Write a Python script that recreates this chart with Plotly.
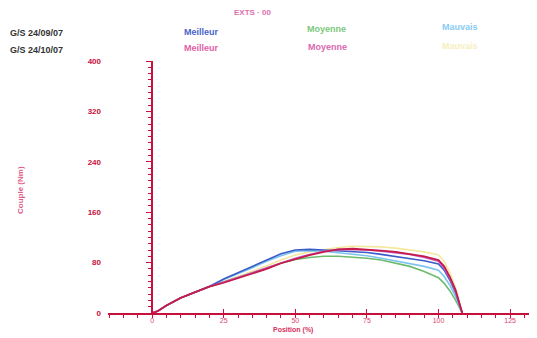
import plotly.graph_objects as go

# ---- data ----
position = [0, 2, 5, 10, 15, 20, 25, 30, 35, 40, 45, 50, 55, 60, 65, 70, 75, 80, 85, 90, 95, 100, 102, 104, 106, 108.3]
s1_meilleur = [0, 3, 12, 24, 33, 42, 54, 64, 74, 84, 94, 100, 101, 100, 99, 98, 96, 93, 90, 87, 83, 78, 68, 52, 32, 0]
s1_moyenne  = [0, 3, 12, 24, 33, 42, 49, 56, 63, 71, 79, 85, 88, 90, 90, 89, 87, 84, 79, 74, 66, 56, 47, 35, 20, 0]
s1_mauvais  = [0, 3, 12, 24, 33, 42, 53, 62, 72, 82, 91, 98, 99, 98, 96, 94, 91, 87, 83, 79, 74, 68, 58, 44, 26, 0]
s2_meilleur = [0, 3, 12, 24, 33, 42, 48, 55, 62, 70, 79, 86, 92, 97, 101, 102, 101, 99, 97, 94, 90, 84, 74, 57, 36, 0]
s2_moyenne  = [0, 3, 12, 24, 33, 42, 49, 56, 64, 72, 80, 87, 93, 98, 101, 101, 100, 98, 96, 93, 88, 82, 71, 55, 34, 0]
s2_mauvais  = [0, 3, 12, 24, 33, 42, 50, 58, 66, 75, 84, 92, 97, 101, 104, 106, 106, 105, 103, 100, 97, 92, 82, 64, 40, 0]

y_ticks = [0, 80, 160, 240, 320, 400]
x_ticks = [0, 25, 50, 75, 100, 125]

title_text = "EXTS · 00"
row_labels = ["G/S 24/09/07", "G/S 24/10/07"]
col_labels = ["Meilleur", "Moyenne", "Mauvais"]

# ---- styles ----
OFF = 8                      # page body margin
W, H = 537 - OFF, 338 - OFF
ML, MR, MT, MB = 108 - OFF, 0, 61 - OFF, 25
XR = [-15.4, 134.4]
YR = [0, 400]
AX = "#c8103c"
FONT = "Liberation Sans, Arial, sans-serif"

series = [
    (s2_mauvais, "#f4e8a0", "G/S 24/10/07 Mauvais", 1.6),
    (s1_moyenne, "#6cbc6c", "G/S 24/09/07 Moyenne", 1.6),
    (s1_mauvais, "#7cc4ee", "G/S 24/09/07 Mauvais", 1.6),
    (s1_meilleur, "#3a5cc8", "G/S 24/09/07 Meilleur", 1.6),
    (s2_moyenne, "#c860c0", "G/S 24/10/07 Moyenne", 1.6),
    (s2_meilleur, "#c41a4c", "G/S 24/10/07 Meilleur", 1.8),
]

fig = go.Figure()
for vals, col, name, lw in series:
    fig.add_trace(go.Scatter(x=position, y=vals, mode="lines", name=name,
                             line=dict(color=col, width=lw), showlegend=False))

fig.add_trace(go.Scatter(x=[0], y=[0], yaxis="y2", mode="markers",
                         marker=dict(opacity=0), showlegend=False, hoverinfo="skip"))

pw = W - ML - MR
ph = H - MT - MB

def px(xp):
    return (xp - OFF - ML) / pw

def py(yp):
    return (H - MB - (yp - OFF)) / ph

ann = []
def txt(t, x, y, color, size=9, bold=True, xanchor="left"):
    ann.append(dict(text=("<b>%s</b>" % t) if bold else t, x=px(x), y=py(y),
                    xref="paper", yref="paper", showarrow=False,
                    xanchor=xanchor, yanchor="middle",
                    font=dict(family=FONT, size=size, color=color)))

txt(title_text, 252, 12, "#e070b0", 8, xanchor="center")
txt(row_labels[0], 8, 33, "#333333", 9)
txt(row_labels[1], 8, 50, "#333333", 9)
txt(col_labels[0], 182, 32, "#4a64c8", 9)
txt(col_labels[0], 182, 48, "#e060a8", 9)
txt(col_labels[1], 305, 29, "#7cc87c", 9)
txt(col_labels[1], 306, 47, "#d868b0", 9)
txt(col_labels[2], 440, 27, "#88ccf4", 9)
txt(col_labels[2], 440, 46, "#f6f0c0", 9)
txt("Couple (Nm)", 20, 190, "#e0608c", 8, xanchor="center")
ann[-1]["textangle"] = -90
txt("Position (%)", 293, 330, "#d8305c", 7, xanchor="center")

fig.update_layout(
    width=W, height=H,
    margin=dict(l=ML, r=MR, t=MT, b=MB, pad=0, autoexpand=False),
    paper_bgcolor="white", plot_bgcolor="white",
    font=dict(family=FONT, color=AX),
    annotations=ann,
    xaxis=dict(range=XR, tickvals=x_ticks, ticktext=[str(v) for v in x_ticks],
               showgrid=False, zeroline=False, showline=True, linecolor=AX, linewidth=1.5,
               ticks="inside", ticklen=4, tickcolor=AX, tickwidth=1, automargin=False,
               minor=dict(dtick=5, tick0=0, ticks="outside", ticklen=3, tickcolor=AX),
               tickfont=dict(size=7, color="#e04070"), fixedrange=True),
    yaxis=dict(range=YR, tickvals=y_ticks, ticktext=["<b>%d</b>" % v for v in y_ticks],
               showgrid=False, zeroline=False, showline=False, ticks="", automargin=False,
               ticklabelstandoff=6,
               tickfont=dict(size=8, color=AX), fixedrange=True),
    yaxis2=dict(range=YR, overlaying="y", anchor="free", automargin=False,
                position=(0 - XR[0]) / (XR[1] - XR[0]),
                showticklabels=False, showgrid=False, zeroline=False,
                showline=True, linecolor=AX, linewidth=1.5,
                tickvals=y_ticks, ticks="outside", ticklen=5, tickcolor=AX,
                minor=dict(dtick=10, tick0=0, ticks="outside", ticklen=3, tickcolor=AX),
                fixedrange=True),
)

fig.write_html("out.html")
